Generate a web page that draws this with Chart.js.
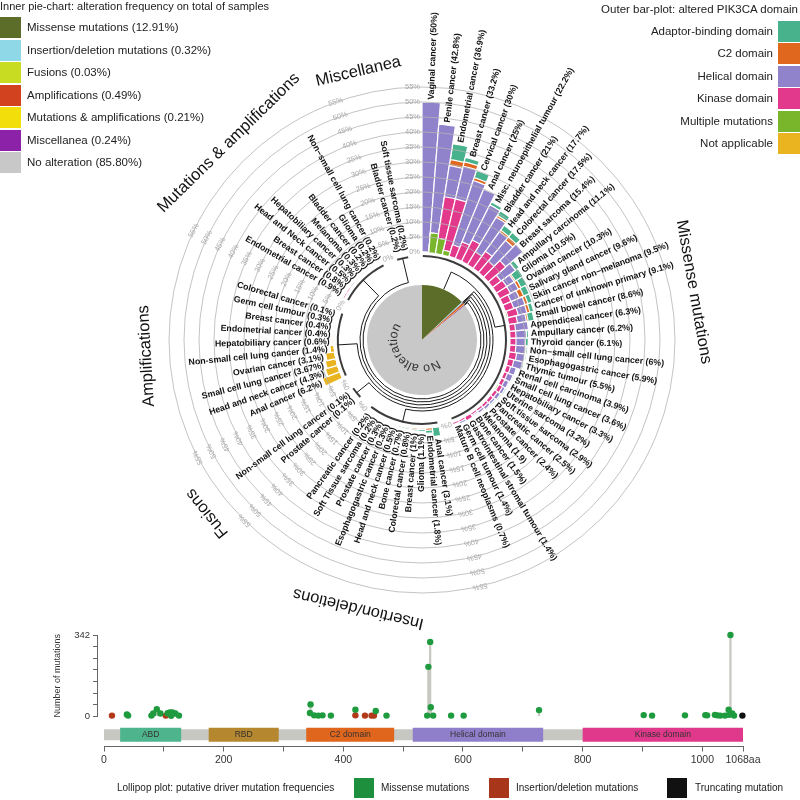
<!DOCTYPE html>
<html lang="en">
<head>
<meta charset="UTF-8">
<title>PIK3CA alterations</title>
<style>
  body { margin: 0; background: #fff; }
  #wrap { position: relative; width: 800px; height: 800px; overflow: hidden;
          font-family: "Liberation Sans", Arial, sans-serif; color: #222; }
  #wrap canvas { position: absolute; }
  .t { position: absolute; white-space: nowrap; }
  .sq { position: absolute; }
</style>
</head>
<body>
<div id="wrap">
  <canvas id="wheel" width="800" height="700" style="left:0;top:0"></canvas>
  <canvas id="pie" width="110" height="110" style="left:367px;top:285px"></canvas>
  <canvas id="lolli" width="800" height="100" style="left:0;top:625px"></canvas>
  <canvas id="prot" width="800" height="60" style="left:0;top:722px"></canvas>
  <div id="legends"></div>
</div>

<script src="https://cdn.jsdelivr.net/npm/chart.js@4.4.1/dist/chart.umd.min.js"></script>
<script>
// ---- inner pie ----
var pieLabels = ['Missense mutations', 'Insertion/deletion mutations', 'Fusions', 'Amplifications',
                 'Mutations & amplifications', 'Miscellanea', 'No alteration'];
var pieValues = [12.91, 0.32, 0.03, 0.49, 0.21, 0.24, 85.80];
var pieColors = ['#5B6D28', '#8FD8E8', '#C8DC22', '#D2421E', '#F1DE0A', '#8C22A8', '#C8C8C8'];

// ---- outer bars ----
var domainNames = ['Adaptor-binding domain', 'C2 domain', 'Helical domain', 'Kinase domain', 'Multiple mutations', 'Not applicable'];
var domainColors = ['#48B28C', '#E0681E', '#9183CB', '#E2398D', '#7AB62C', '#E9B41F'];

var groupNames = ['Missense mutations', 'Insertion/deletions', 'Fusions', 'Amplifications', 'Mutations & amplifications', 'Miscellanea'];
var groupSizes = [36, 11, 2, 10, 8, 2];
var groupGap = 2;   // empty slots after each group

var barLabels = [
  // missense
  'Vaginal cancer (50%)', 'Penile cancer (42.8%)', 'Endometrial cancer (36.9%)', 'Breast cancer (33.2%)',
  'Cervical cancer (30%)', 'Anal cancer (25%)', 'Misc. neuroepithelial tumour (22.2%)', 'Bladder cancer (21%)',
  'Head and neck cancer (17.7%)', 'Colorectal cancer (17.5%)', 'Breast sarcoma (15.4%)', 'Ampullary carcinoma (11.1%)',
  'Glioma (10.5%)', 'Ovarian cancer (10.3%)', 'Salivary gland cancer (9.6%)', 'Skin cancer non\u2212melanoma (9.5%)',
  'Cancer of unknown primary (9.1%)', 'Small bowel cancer (8.6%)', 'Appendiceal cancer (6.3%)', 'Ampullary cancer (6.2%)',
  'Thyroid cancer (6.1%)', 'Non\u2212small cell lung cancer (6%)', 'Esophagogastric cancer (5.9%)', 'Thymic tumour (5.5%)',
  'Renal cell carcinoma (3.9%)', 'Small cell lung cancer (3.6%)', 'Hepatobiliary cancer (3.3%)', 'Uterine sarcoma (3.2%)',
  'Soft tissue sarcoma (2.9%)', 'Pancreatic cancer (2.5%)', 'Prostate cancer (2.4%)', 'Melanoma (1.9)',
  'Bone cancer (1.5%)', 'Gastrointestinal stromal tumour (1.4%)', 'Germ cell tumour (1.4%)', 'Mature B cell neoplasms (0.7%)',
  // insertion/deletions
  'Anal cancer (3.1%)', 'Endometrial cancer (1.8%)', 'Glioma (1.1%)', 'Breast cancer (1%)', 'Colorectal cancer (0.8%)',
  'Bone cancer (0.7%)', 'Head and neck cancer (0.5%)', 'Esophagogastric cancer (0.3%)', 'Prostate cancer (0.3%)',
  'Soft Tissue sarcoma (0.2%)', 'Pancreatic cancer (0.2%)',
  // fusions
  'Prostate cancer (0.1%)', 'Non-small cell lung cancer (0.1%)',
  // amplifications
  'Anal cancer (6.2%)', 'Head and neck cancer (4.3%)', 'Small cell lung cancer (3.67%)', 'Ovarian cancer (3.1%)',
  'Non-small cell lung cancer (1.4%)', 'Hepatobiliary cancer (0.6%)', 'Endometrial cancer (0.4%)', 'Breast cancer (0.4%)',
  'Germ cell tumour (0.3%)', 'Colorectal cancer (0.1%)',
  // mutations & amplifications
  'Endometrial cancer (0.9%)', 'Breast cancer (0.8%)', 'Head and Neck cancer (0.5%)', 'Hepatobiliary cancer (0.3%)',
  'Melanoma (0.3%)', 'Bladder cancer (0.2%)', 'Glioma (0.2%)', 'Non\u2212small cell lung cancer (0.2%)',
  // miscellanea
  'Bladder cancer (0.2%)', 'Soft tissue sarcoma (0.2%)'
];

// per-domain share of each bar (%), same order as barLabels
var multiple = [
  0, 6.5, 5, 1.5, 0, 0, 0, 0, 0, 0, 0, 0, 0, 0, 0, 0, 0.3, 0, 0, 0, 0, 0, 0, 0, 0, 0, 0, 0.3, 0, 0, 0, 0, 0, 0, 0, 0,
  0, 0, 0, 0, 0, 0, 0, 0, 0, 0, 0,
  0, 0,
  0, 0, 0, 0, 0, 0, 0, 0, 0, 0,
  0, 0, 0, 0, 0, 0, 0, 0,
  0, 0
];
var kinase = [
  0, 0, 14, 17.5, 4, 6, 8, 5, 7, 5, 7.7, 3.5, 4, 4, 3, 3, 3.5, 3, 2, 2, 2, 2, 2.5, 2, 1.5, 1.2, 1.3, 1.4, 1.2, 1.2, 1, 0.8, 0.7, 1.4, 0.7, 0.7,
  0, 0, 0, 0, 0, 0, 0, 0, 0, 0, 0,
  0, 0,
  0, 0, 0, 0, 0, 0, 0, 0, 0, 0,
  0.5, 0.5, 0, 0.3, 0, 0.2, 0, 0.2,
  0.2, 0.2
];
var helical = [
  50, 36.3, 10.5, 11.2, 22.5, 19, 13, 13.5, 8, 9, 7.7, 6, 3, 3, 3, 4, 3, 3, 4.3, 3.5, 3.1, 3.2, 2.8, 3, 2, 2, 1.5, 1, 1.2, 0.8, 1, 0.8, 0.5, 0, 0.7, 0,
  0, 0, 0, 0, 0, 0, 0.3, 0, 0, 0, 0,
  0, 0,
  0, 0, 0, 0, 0, 0, 0, 0, 0, 0,
  0, 0.3, 0.5, 0, 0, 0, 0, 0,
  0, 0
];
var c2 = [
  0, 0, 2, 1.5, 1, 0, 0, 0.7, 0.7, 1.5, 0, 0, 0.5, 1, 1.6, 1, 1, 0.6, 0, 0, 0, 0.3, 0.2, 0, 0, 0, 0.2, 0, 0, 0, 0, 0, 0, 0, 0, 0,
  0, 0.8, 0.5, 0.5, 0.4, 0.3, 0, 0, 0, 0, 0,
  0, 0,
  0, 0, 0, 0, 0, 0, 0, 0, 0, 0,
  0, 0, 0, 0, 0, 0, 0, 0,
  0, 0
];
var abd = [
  0, 0, 5.4, 1.5, 2.5, 0, 1.2, 1.8, 2, 2, 0, 1.6, 3, 2.3, 2, 1.5, 1.3, 2, 0, 0.7, 1, 0.5, 0.4, 0.5, 0.4, 0.4, 0.3, 0.5, 0.5, 0.5, 0.4, 0.3, 0.3, 0, 0, 0,
  3.1, 1, 0.6, 0.5, 0.4, 0.4, 0.2, 0.3, 0.3, 0.2, 0.2,
  0, 0,
  0, 0, 0, 0, 0, 0, 0, 0, 0, 0,
  0.4, 0, 0, 0, 0.3, 0, 0.2, 0,
  0, 0
];
var notApplicable = [
  0, 0, 0, 0, 0, 0, 0, 0, 0, 0, 0, 0, 0, 0, 0, 0, 0, 0, 0, 0, 0, 0, 0, 0, 0, 0, 0, 0, 0, 0, 0, 0, 0, 0, 0, 0,
  0, 0, 0, 0, 0, 0, 0, 0, 0, 0, 0,
  0.1, 0.1,
  6.2, 4.3, 3.67, 3.1, 1.4, 0.6, 0.4, 0.4, 0.3, 0.1,
  0, 0, 0, 0, 0, 0, 0, 0,
  0, 0
];
var tickValues = [0, 5, 10, 15, 20, 25, 30, 35, 40, 45, 50, 55];

// ---- lollipop ----
var missensePos = [38, 40, 79, 82, 88, 94, 106, 110, 112, 114, 119, 125,
                   344, 345, 351, 358, 365, 379, 420, 454, 472,
                   540, 542, 545, 546, 550, 580, 601, 727,
                   902, 916, 971, 1005, 1008, 1021, 1025, 1030, 1038, 1044, 1045, 1047, 1050, 1053];
var missenseCount = [8, 3, 3, 12, 30, 12, 13, 16, 2, 16, 12, 3,
                     14, 50, 4, 3, 4, 3, 28, 22, 3,
                     3, 208, 313, 38, 3, 3, 3, 26,
                     5, 3, 4, 5, 4, 6, 4, 3, 3, 28, 6, 342, 12, 3];
var indelPos = [13, 103, 420, 436, 447, 451];
var indelCount = [3, 3, 4, 3, 3, 3];
var truncPos = [1067];
var truncCount = [3];
var protDomains = ['ABD', 'RBD', 'C2 domain', 'Helical domain', 'Kinase domain'];
var protStart = [27, 175, 338, 516, 800];
var protEnd = [129, 292, 485, 734, 1068];
var protColors = ['#4DB48E', '#B5872E', '#E0661E', '#8F7FCB', '#E0388A'];
var xTicks = [0, 100, 200, 300, 400, 500, 600, 700, 800, 900, 1000, 1068];

var FONT = '"Liberation Sans", Arial, sans-serif';
Chart.defaults.font.family = FONT;
Chart.defaults.color = '#333';

// ---------- build wheel slots ----------
var slots = [], groupFirst = [], groupLast = [];
var b = 0;
groupSizes.forEach(function (n) {
  groupFirst.push(slots.length);
  for (var k = 0; k < n; k++) slots.push(b++);
  groupLast.push(slots.length - 1);
  for (var k2 = 0; k2 < groupGap; k2++) slots.push(-1);
});

// stacking order from the centre outwards
var stackOrder = [4, 3, 2, 1, 0, 5];
var stackData = [multiple, kinase, helical, c2, abd, notApplicable];
var run = barLabels.map(function () { return 0; });
var cumul = stackData.map(function (arr) {
  run = run.map(function (v, i) { return v + arr[i]; });
  return run;
});
var totals = cumul[cumul.length - 1];

var wheelSets = [{
  data: slots.map(function () { return 0; }),
  backgroundColor: '#ffffff', borderWidth: 0, order: 0
}];
cumul.forEach(function (arr, k) {
  wheelSets.push({
    data: slots.map(function (s) { return s < 0 ? 0 : arr[s]; }),
    backgroundColor: domainColors[stackOrder[k]],
    borderColor: '#ffffff', borderWidth: 1.2, order: k + 1
  });
});

var PIE_R = 55;
var connectorGap = [14, 17, 20, 23, 26, 29];

var wheelDecor = {
  id: 'wheelDecor',
  afterDraw: function (chart) {
    var s = chart.scales.r, ctx = chart.ctx;
    var step = 2 * Math.PI / slots.length;
    var mid = function (i) { return s.getIndexAngle(i) + step / 2; };
    var dist = function (v) { return s.getDistanceFromCenterForValue(v); };
    var pt = function (r, a) { return [r * Math.sin(a), -r * Math.cos(a)]; };
    var r0 = dist(0);
    var Q = Math.PI / 2;
    ctx.save();
    ctx.translate(s.xCenter, s.yCenter);

    // % ticks at the start of each group
    ctx.font = '7.5px ' + FONT;
    ctx.fillStyle = '#a8a8a8';
    ctx.textBaseline = 'middle';
    ctx.textAlign = 'right';
    groupFirst.forEach(function (first) {
      ctx.save();
      ctx.rotate(s.getIndexAngle(first));
      tickValues.forEach(function (v) { ctx.fillText(v + '%', -2, -dist(v)); });
      ctx.restore();
    });

    // bar labels
    ctx.font = 'bold 8.8px ' + FONT;
    ctx.fillStyle = '#111';
    slots.forEach(function (bi, i) {
      if (bi < 0) return;
      var a = mid(i);
      var r = dist(totals[bi]) + 2.5;
      ctx.save();
      if (a < Math.PI) {
        ctx.rotate(a - Q); ctx.textAlign = 'left'; ctx.fillText(barLabels[bi], r, 0);
      } else {
        ctx.rotate(a + Q); ctx.textAlign = 'right'; ctx.fillText(barLabels[bi], -r, 0);
      }
      ctx.restore();
    });

    // group names
    ctx.font = '16.5px ' + FONT;
    ctx.fillStyle = '#111';
    ctx.textAlign = 'center';
    groupNames.forEach(function (name, g) {
      var a = (mid(groupFirst[g]) + mid(groupLast[g])) / 2;
      ctx.save();
      ctx.rotate(a);
      ctx.fillText(name, 0, -276);
      ctx.restore();
    });

    // group brackets
    var rBr = r0 - 4;
    ctx.strokeStyle = '#3c3c3c';
    ctx.lineWidth = 2;
    groupFirst.forEach(function (first, g) {
      ctx.beginPath();
      ctx.arc(0, 0, rBr, s.getIndexAngle(first) - Q + 0.01, s.getIndexAngle(groupLast[g]) + step - Q - 0.01);
      ctx.stroke();
    });

    // connectors from pie slices to groups
    ctx.strokeStyle = '#1a1a1a';
    ctx.lineWidth = 1;
    var acc = 0;
    groupNames.forEach(function (name, g) {
      var pa = (acc + pieValues[g] / 2) / 100 * 2 * Math.PI;
      acc += pieValues[g];
      var ga = (mid(groupFirst[g]) + mid(groupLast[g])) / 2;
      var rc = r0 - connectorGap[g];
      var p1 = pt(PIE_R, pa), p2 = pt(rc, pa), p3 = pt(rBr, ga);
      ctx.beginPath();
      ctx.moveTo(p1[0], p1[1]);
      ctx.lineTo(p2[0], p2[1]);
      ctx.arc(0, 0, rc, pa - Q, ga - Q);
      ctx.lineTo(p3[0], p3[1]);
      ctx.stroke();
    });
    ctx.restore();
  }
};

new Chart(document.getElementById('wheel'), {
  type: 'polarArea',
  data: { labels: slots.map(function (s, i) { return 'slot' + i; }), datasets: wheelSets },
  options: {
    responsive: false, animation: false, devicePixelRatio: 1,
    layout: { padding: { left: 169, right: 125, top: 87, bottom: 107 } },
    plugins: { legend: { display: false }, tooltip: { enabled: false } },
    scales: {
      r: {
        min: -29.3333, max: 55, startAngle: 0,
        afterBuildTicks: function (s) { s.ticks = tickValues.map(function (v) { return { value: v }; }); },
        ticks: { display: false },
        angleLines: { display: false },
        pointLabels: { display: false },
        grid: {
          z: 1, lineWidth: 1,
          color: function (c) { return c.tick && c.tick.value > 0 ? 'rgba(180,180,180,0.8)' : 'rgba(0,0,0,0)'; }
        }
      }
    }
  },
  plugins: [wheelDecor]
});

// ---------- pie ----------
var pieText = {
  id: 'pieText',
  afterDraw: function (chart) {
    var arc = chart.getDatasetMeta(0).data[0];
    var ctx = chart.ctx, text = pieLabels[6];
    ctx.save();
    ctx.font = '12.5px ' + FONT;
    ctx.fillStyle = '#333';
    ctx.textAlign = 'center';
    ctx.textBaseline = 'alphabetic';
    var r = 25;
    var a = 133 * Math.PI / 180 - ctx.measureText(text).width / r / 2;
    for (var i = 0; i < text.length; i++) {
      var w = ctx.measureText(text[i]).width;
      var ac = a + w / 2 / r;
      ctx.save();
      ctx.translate(arc.x + r * Math.cos(ac), arc.y + r * Math.sin(ac));
      ctx.rotate(ac + Math.PI / 2);
      ctx.fillText(text[i], 0, 0);
      ctx.restore();
      a += w / r;
    }
    ctx.restore();
  }
};

new Chart(document.getElementById('pie'), {
  type: 'pie',
  data: { labels: pieLabels, datasets: [{ data: pieValues, backgroundColor: pieColors, borderWidth: 0 }] },
  options: {
    responsive: false, animation: false, devicePixelRatio: 1,
    plugins: { legend: { display: false }, tooltip: { enabled: false } }
  },
  plugins: [pieText]
});

// ---------- lollipop ----------
function pairs(xs, ys) { return xs.map(function (x, i) { return { x: x, y: ys[i] }; }); }
var stems = pairs(missensePos, missenseCount).concat(pairs(indelPos, indelCount), pairs(truncPos, truncCount));

new Chart(document.getElementById('lolli'), {
  type: 'bar',
  data: {
    datasets: [
      { type: 'scatter', data: pairs(missensePos, missenseCount), backgroundColor: '#1E9B3E', pointRadius: 3.2, borderWidth: 0, order: 0, clip: false },
      { type: 'scatter', data: pairs(indelPos, indelCount), backgroundColor: '#B23A1B', pointRadius: 3.2, borderWidth: 0, order: 0, clip: false },
      { type: 'scatter', data: pairs(truncPos, truncCount), backgroundColor: '#111111', pointRadius: 3.2, borderWidth: 0, order: 0, clip: false },
      { type: 'bar', data: stems, backgroundColor: '#C9C9C1', barThickness: 1.6, order: 5 }
    ]
  },
  options: {
    responsive: false, animation: false, devicePixelRatio: 1,
    layout: { padding: { left: 50, right: 57, top: 10, bottom: 3 } },
    plugins: { legend: { display: false }, tooltip: { enabled: false } },
    scales: {
      x: { type: 'linear', display: false, min: -12, max: 1068, offset: false, grid: { offset: false } },
      y: {
        min: 0, max: 342,
        afterBuildTicks: function (s) {
          s.ticks = [0, 1, 2, 3, 4, 5, 6, 7].map(function (k) { return { value: k * 342 / 7 }; });
        },
        afterFit: function (s) { s.width = 47; },
        ticks: {
          autoSkip: false, padding: 3, font: { size: 9.5 }, color: '#333',
          callback: function (v) { return (v === 0 || Math.abs(v - 342) < 0.01) ? String(Math.round(v)) : ''; }
        },
        grid: { drawOnChartArea: false, tickLength: 4, color: '#666' },
        border: { color: '#666' },
        title: { display: true, text: 'Number of mutations', font: { size: 9 }, color: '#333', padding: 2 }
      }
    }
  }
});

// ---------- protein backbone ----------
var protLabels = {
  id: 'protLabels',
  afterDatasetsDraw: function (chart) {
    var ctx = chart.ctx, xs = chart.scales.x, ys = chart.scales.y;
    ctx.save();
    ctx.font = '8.5px ' + FONT;
    ctx.fillStyle = '#333';
    ctx.textAlign = 'center';
    ctx.textBaseline = 'middle';
    protDomains.forEach(function (name, i) {
      ctx.fillText(name, xs.getPixelForValue((protStart[i] + protEnd[i]) / 2), ys.getPixelForValue(12));
    });
    ctx.restore();
  }
};

var protSets = [{
  data: [{ x: 0, y: 12 }, { x: 1068, y: 12 }], borderColor: '#C8C8C2', borderWidth: 11,
  pointRadius: 0, borderCapStyle: 'butt', order: 10, clip: false
}];
protDomains.forEach(function (name, i) {
  protSets.push({
    data: [{ x: protStart[i], y: 12 }, { x: protEnd[i], y: 12 }], borderColor: protColors[i], borderWidth: 14,
    pointRadius: 0, borderCapStyle: 'butt', order: 1, clip: false
  });
});

new Chart(document.getElementById('prot'), {
  type: 'line',
  data: { datasets: protSets },
  options: {
    responsive: false, animation: false, devicePixelRatio: 1,
    layout: { padding: { left: 104, right: 57, top: 3, bottom: 14 } },
    plugins: { legend: { display: false }, tooltip: { enabled: false } },
    scales: {
      x: {
        type: 'linear', min: 0, max: 1068, offset: false,
        afterBuildTicks: function (s) { s.ticks = xTicks.map(function (v) { return { value: v }; }); },
        ticks: {
          autoSkip: false, maxRotation: 0, padding: 2, font: { size: 10.5 }, color: '#333',
          callback: function (v) { return v === 1068 ? '1068aa' : (v % 200 === 0 ? String(v) : ''); }
        },
        grid: { drawOnChartArea: false, tickLength: 5, color: '#666' },
        border: { color: '#666' }
      },
      y: { display: false, min: 0, max: 22 }
    }
  },
  plugins: [protLabels]
});

// ---------- legends ----------
var host = document.getElementById('legends');
function addText(txt, css) {
  var d = document.createElement('div');
  d.className = 't'; d.textContent = txt;
  Object.assign(d.style, css);
  host.appendChild(d);
}
function addBox(color, css) {
  var d = document.createElement('div');
  d.className = 'sq';
  Object.assign(d.style, { background: color }, css);
  host.appendChild(d);
}

addText('Inner pie-chart: alteration frequency on total of samples', { left: '0px', top: '0px', fontSize: '11px', lineHeight: '13px' });
pieLabels.forEach(function (name, i) {
  var top = 17 + i * 22.5;
  addBox(pieColors[i], { left: '0px', top: top + 'px', width: '21px', height: '21px' });
  addText(name + ' (' + pieValues[i].toFixed(2) + '%)', { left: '27px', top: top + 'px', fontSize: '11.5px', lineHeight: '21px' });
});

addText('Outer bar-plot: altered PIK3CA domain', { right: '2px', top: '3px', fontSize: '11.5px', lineHeight: '13px' });
domainNames.forEach(function (name, i) {
  var top = 21 + i * 22.4;
  addBox(domainColors[i], { left: '778px', top: top + 'px', width: '22px', height: '21px' });
  addText(name, { right: '27px', top: top + 'px', fontSize: '11.5px', lineHeight: '21px' });
});

addText('Lollipop plot: putative driver mutation frequencies', { left: '117px', top: '781px', fontSize: '10px', lineHeight: '14px' });
var lolliLegend = [['Missense mutations', '#1E8F3C', 354, 381], ['Insertion/deletion mutations', '#A8361A', 489, 516], ['Truncating mutation', '#111111', 667, 695]];
lolliLegend.forEach(function (it) {
  addBox(it[1], { left: it[2] + 'px', top: '778px', width: '20px', height: '20px' });
  addText(it[0], { left: it[3] + 'px', top: '781px', fontSize: '10px', lineHeight: '14px' });
});
</script>
</body>
</html>
